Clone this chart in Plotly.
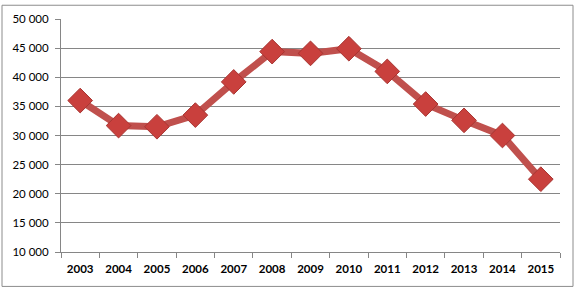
import plotly.graph_objects as go

years = ["2003", "2004", "2005", "2006", "2007", "2008", "2009", "2010", "2011", "2012", "2013", "2014", "2015"]
values = [36000, 31700, 31500, 33500, 39200, 44400, 44100, 44900, 41000, 35400, 32600, 30000, 22500]
ytick_vals = [10000, 15000, 20000, 25000, 30000, 35000, 40000, 45000, 50000]
ytick_text = ["10 000", "15 000", "20 000", "25 000", "30 000", "35 000", "40 000", "45 000", "50 000"]

W, H = 575, 289
ml, mr, mt, mb = 61, 15, 15, 37
pw, ph = W - ml - mr, H - mt - mb

fig = go.Figure()
fig.add_trace(go.Scatter(
    x=years, y=values, mode="lines+markers",
    line=dict(color="#C0504D", width=7),
    marker=dict(symbol="diamond", size=19, color="#C9403D",
                line=dict(color="#A83532", width=1)),
    showlegend=False, cliponaxis=False,
))

grid = "#868686"
fig.update_layout(
    width=W, height=H,
    margin=dict(l=ml, r=mr, t=mt, b=mb),
    paper_bgcolor="white", plot_bgcolor="white",
    font=dict(family="Lato", size=11, color="#000000"),
    xaxis=dict(
        type="category", range=[-0.5, 12.5],
        showline=True, linecolor=grid, linewidth=1,
        ticks="outside", tickson="boundaries", ticklen=5, tickcolor=grid,
        showgrid=False, tickfont=dict(family="Lato", size=11.5, weight="bold"),
        ticklabelstandoff=6,
    ),
    yaxis=dict(
        range=[10000, 50000], tickvals=ytick_vals, ticktext=ytick_text,
        showline=True, linecolor=grid, linewidth=1,
        ticks="outside", ticklen=5, tickcolor=grid,
        showgrid=True, gridcolor=grid, gridwidth=1,
        zeroline=False, tickfont=dict(family="Lato", size=11.5),
        ticklabelstandoff=4,
    ),
    shapes=[dict(
        type="rect", xref="paper", yref="paper",
        x0=(2 - ml) / pw, x1=(573 - ml) / pw,
        y0=(H - mb - 287) / ph, y1=(H - mb - 1) / ph,
        line=dict(color="#8C8C8C", width=1), fillcolor="rgba(0,0,0,0)",
        layer="below",
    )],
)

fig.write_html("out.html")
